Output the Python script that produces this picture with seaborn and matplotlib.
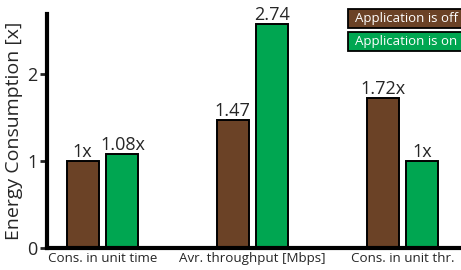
import matplotlib
matplotlib.use("Agg")
import matplotlib.pyplot as plt
from matplotlib.patches import Rectangle
import seaborn as sns
import pandas as pd

categories = ["Cons. in unit time", "Avr. throughput [Mbps]", "Cons. in unit thr."]
series_names = ["Application is off", "Application is on"]
off_values = [1.0, 1.47, 1.72]
on_values = [1.08, 2.57, 1.0]
off_labels = ["1x", "1.47", "1.72x"]
on_labels = ["1.08x", "2.74", "1x"]
yticks = [0, 1, 2]
colors = ["#6B4226", "#00A651"]

df = pd.DataFrame({
    "category": categories * 2,
    "series": [series_names[0]] * 3 + [series_names[1]] * 3,
    "value": off_values + on_values,
})

sns.set_style("white")
plt.rcParams["font.family"] = ["Open Sans", "DejaVu Sans"]

fig = plt.figure(figsize=(4.61, 2.70), dpi=100)
ax = fig.add_axes([47 / 461, 22 / 270, (461 - 47) / 461, (248 - 14) / 270])

sns.barplot(data=df, x="category", y="value", hue="series", order=categories,
            hue_order=series_names, palette=colors, width=0.53, gap=0.2,
            edgecolor="black", linewidth=1.4, saturation=1, legend=False, ax=ax)

for container, labels in zip(ax.containers, [off_labels, on_labels]):
    ax.bar_label(container, labels=labels, padding=0, fontsize=13)

ax.set_ylim(0, 2.69)
ax.set_xlim(-0.37, 2.39)
ax.set_yticks(yticks)
ax.set_yticklabels([str(t) for t in yticks], fontsize=13)
ax.set_ylabel("Energy Consumption [x]", fontsize=14, labelpad=3)
ax.set_xlabel("")
ax.tick_params(axis="x", length=0, labelsize=9.6, pad=3)
ax.tick_params(axis="y", direction="out", length=5, width=2, pad=2, left=True)
for s in ["top", "right"]:
    ax.spines[s].set_visible(False)
for s in ["left", "bottom"]:
    ax.spines[s].set_linewidth(3)
    ax.spines[s].set_color("black")

box_tops = [1.021, 0.923]
box_h = 0.082
for top, name, c in zip(box_tops, series_names, colors):
    ax.add_patch(Rectangle((0.727, top - box_h), 0.29, box_h, transform=ax.transAxes,
                           facecolor=c, edgecolor="black", linewidth=1.3, clip_on=False))
    ax.text(0.744, top - box_h / 2, name, transform=ax.transAxes, color="white",
            fontsize=9.5, ha="left", va="center")

fig.savefig("out.png", dpi=100)
